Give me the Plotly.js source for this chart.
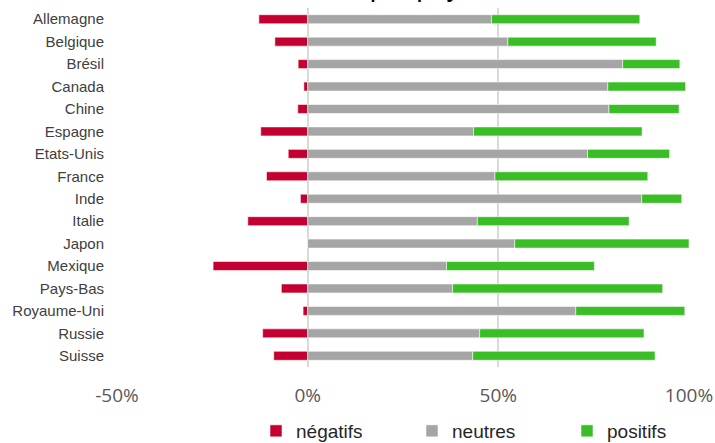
<!DOCTYPE html>
<html>
<head>
<meta charset="utf-8">
<script src="https://cdn.plot.ly/plotly-3.0.1.min.js"></script>
<style>html,body{margin:0;padding:0;background:#fff;}#chart{width:715px;height:443px;}</style>
</head>
<body>
<div id="chart"></div>
<script>
const pays = ["Allemagne","Belgique","Brésil","Canada","Chine","Espagne","Etats-Unis","France","Inde","Italie","Japon","Mexique","Pays-Bas","Royaume-Uni","Russie","Suisse"];
const negatifs = [-0.128,-0.086,-0.025,-0.010,-0.026,-0.123,-0.051,-0.108,-0.019,-0.157,0.0,-0.248,-0.069,-0.012,-0.118,-0.089];
const neutres  = [0.482,0.525,0.826,0.787,0.790,0.435,0.734,0.491,0.876,0.445,0.543,0.364,0.380,0.703,0.451,0.433];
const positifs = [0.389,0.389,0.150,0.204,0.184,0.442,0.215,0.401,0.105,0.398,0.457,0.388,0.551,0.286,0.431,0.478];
const tickVals = [-0.5,0,0.5,1];
const tickText = ["-50%","0%","50%","100%"];
const titre = "Sentiment par pays";

const edge = {color:'rgba(255,255,255,0.55)', width:1};
const traces = [
  {type:'bar', orientation:'h', name:'négatifs', y:pays, x:negatifs, legend:'legend', marker:{color:'#C3002F', line:edge}},
  {type:'bar', orientation:'h', name:'neutres', y:pays, x:neutres, legend:'legend2', marker:{color:'#A5A5A5', line:edge}},
  {type:'bar', orientation:'h', name:'positifs', y:pays, x:positifs, legend:'legend3', marker:{color:'#3ABE26', line:edge}}
];
const legFont = {family:'Liberation Sans, Arial', size:19, color:'#262626'};
function leg(xpx){
  return {orientation:'h', xref:'container', yref:'container', x:xpx/715, xanchor:'left',
          y:1-431/443, yanchor:'middle', itemwidth:30, font:legFont, bgcolor:'rgba(0,0,0,0)', borderwidth:0};
}
const layout = {
  width:715, height:443,
  margin:{l:117, r:26, t:8, b:76},
  paper_bgcolor:'#ffffff', plot_bgcolor:'#ffffff',
  barmode:'relative', bargap:0.6,
  showlegend:true,
  xaxis:{range:[-0.5,1.0], tickvals:tickVals, ticktext:tickText, showgrid:true, gridcolor:'#D9D9D9', gridwidth:2,
         zeroline:false, showline:false, ticks:'', ticklabelstandoff:15,
         tickfont:{family:'Open Sans', size:19, color:'#595959'}, fixedrange:true},
  yaxis:{autorange:'reversed', showgrid:false, zeroline:false, showline:false, ticks:'', ticklabelstandoff:12,
         tickfont:{family:'Liberation Sans, Arial', size:15, color:'#404040'}},
  legend:leg(256), legend2:leg(412), legend3:leg(567),
  annotations:[{text:titre, xref:'paper', yref:'paper', x:0.4205, y:1, xanchor:'center', yanchor:'bottom', yshift:4,
                showarrow:false, font:{family:'Liberation Sans, Arial', size:27, color:'#000000'}}]
};
Plotly.newPlot('chart', traces, layout, {displayModeBar:false, staticPlot:true});
</script>
</body>
</html>
